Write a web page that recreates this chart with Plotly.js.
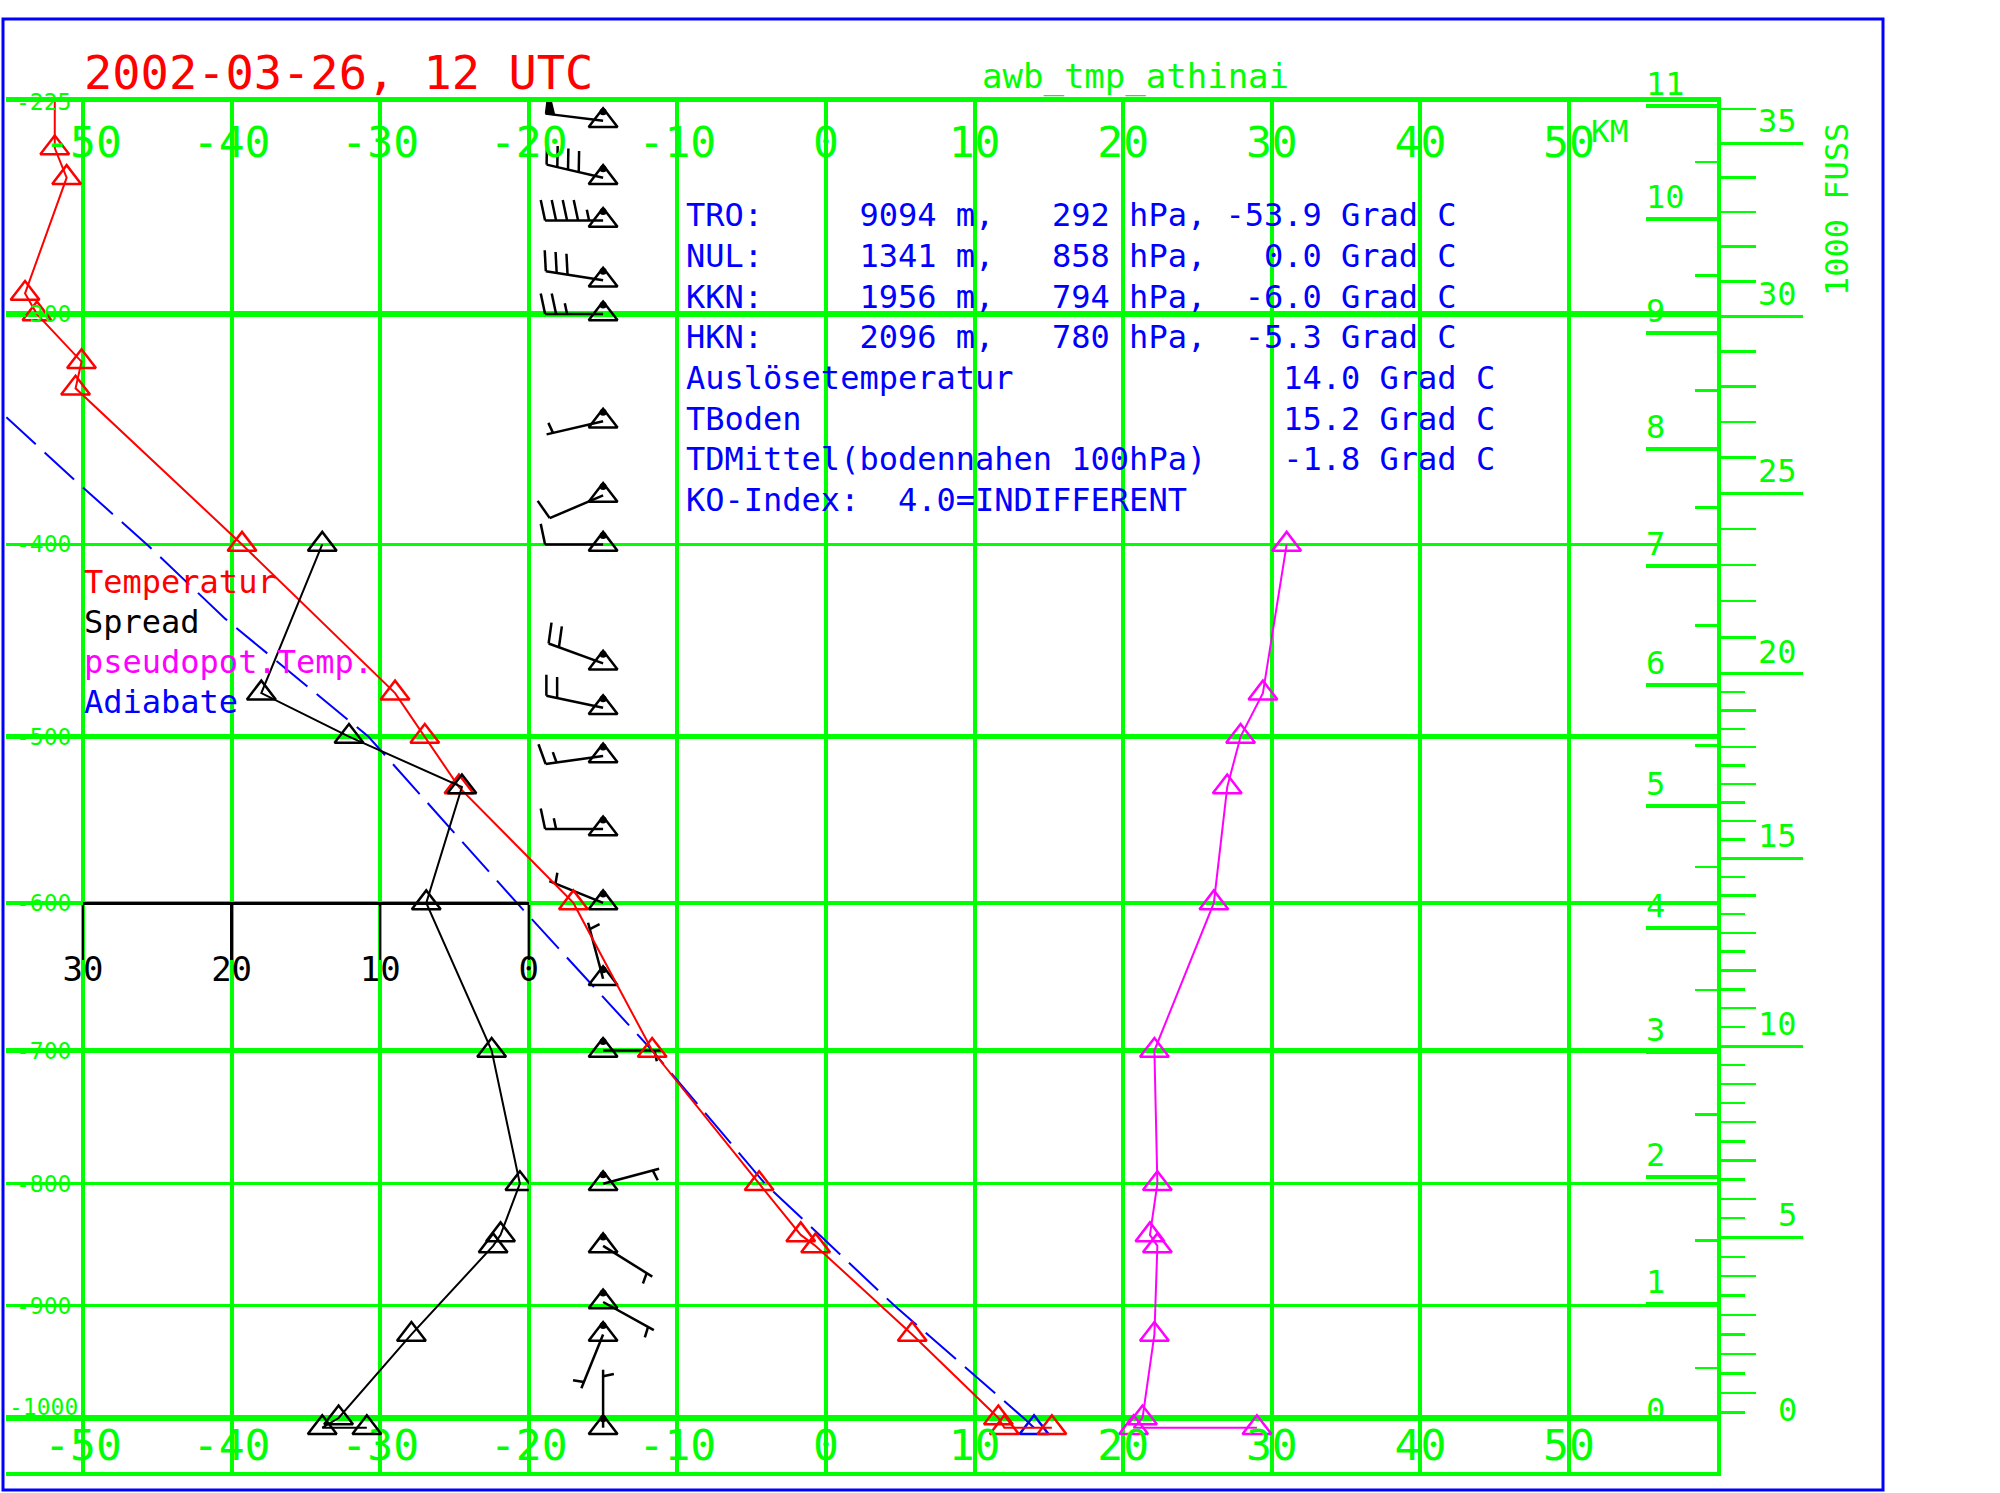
<!DOCTYPE html>
<html><head><meta charset="utf-8">
<script src="https://cdn.plot.ly/plotly-3.0.1.min.js"></script>
<style>html,body{margin:0;padding:0;background:#fff;}#chart{width:2000px;height:1493px;}</style>
</head><body><div id="chart"></div>
<script>
// ---------------- data ----------------
const tempP  = [200, 240, 250, 292, 300, 319, 330, 400, 476, 500, 529, 600, 700, 800, 841, 850, 925, 1000, 1009, 1009];
const tempT  = [-51.9, -51.9, -51.1, -53.9, -53.1, -50.1, -50.5, -39.3, -29.0, -27.0, -24.7, -17.0, -11.7, -4.5, -1.7, -0.7, 5.8, 11.6, 12.0, 15.2];
const humP   = [400, 476, 500, 529, 600, 700, 800, 841, 850, 925, 1000, 1009, 1009];
const spread = [13.9, 18.0, 12.1, 4.5, 6.9, 2.5, 0.6, 1.9, 2.4, 7.9, 12.8, 13.9, 10.9];
const thetaE = [31.0, 29.4, 27.9, 27.0, 26.1, 22.1, 22.3, 21.8, 22.3, 22.1, 21.3, 20.7, 29.0];
const adiaP  = [1009, 1000, 900, 800, 700, 650, 600, 500, 437, 400, 371, 342, 330];
const adiaT  = [14.0, 13.3, 4.6, -4.1, -11.7, -16.1, -20.8, -30.8, -40.4, -45.7, -50.4, -55.2, -57.3];
const windP   = [231, 250, 265, 287, 300, 344, 377, 400, 460, 484, 511, 554, 600, 650, 700, 800, 850, 897, 925, 1009];
const windDir = [277, 283, 270, 279, 270, 257, 247, 270, 290, 282, 262, 270, 292, 345, 90, 75, 122, 119, 202, 360];
const windSpd = [50, 40, 45, 30, 25, 5, 10, 10, 20, 20, 15, 15, 5, 5, 5, 5, 5, 5, 5, 5];
const pLevels = [225, 300, 400, 500, 600, 700, 800, 900, 1000];
const pThick  = [225, 300, 500, 700, 1000];
const pThin   = [400, 600, 800, 900];
const tempTicks   = [-50, -40, -30, -20, -10, 0, 10, 20, 30, 40, 50];
const spreadTicks = [30, 20, 10, 0];
const kmTicks = [0, 1, 2, 3, 4, 5, 6, 7, 8, 9, 10, 11];
const kmHalf  = [0.5, 1.5, 2.5, 3.5, 4.5, 5.5, 6.5, 7.5, 8.5, 9.5, 10.5];
const ftTicks = [0, 5, 10, 15, 20, 25, 30, 35];
const ft1000  = [1, 2, 3, 4, 6, 7, 8, 9, 11, 12, 13, 14, 16, 17, 18, 19, 21, 22, 23, 24, 26, 27, 28, 29, 31, 32, 33, 34, 36];
const ft500   = [0.5, 1.5, 2.5, 3.5, 4.5, 5.5, 6.5, 7.5, 8.5, 9.5, 10.5, 11.5, 12.5, 13.5, 14.5, 15.5, 16.5, 17.5, 18.5, 19.5];
const titleText = '2002-03-26, 12 UTC';
const stationText = 'awb_tmp_athinai';
const infoLines = [
  'TRO:     9094 m,   292 hPa, -53.9 Grad C',
  'NUL:     1341 m,   858 hPa,   0.0 Grad C',
  'KKN:     1956 m,   794 hPa,  -6.0 Grad C',
  'HKN:     2096 m,   780 hPa,  -5.3 Grad C',
  'Auslösetemperatur              14.0 Grad C',
  'TBoden                         15.2 Grad C',
  'TDMittel(bodennahen 100hPa)    -1.8 Grad C',
  'KO-Index:  4.0=INDIFFERENT'
];
const legendNames = ['Temperatur', 'Spread', 'pseudopot.Temp.', 'Adiabate'];

// ---------------- layout geometry ----------------
const GREEN = '#00ff00', RED = '#ff0000', BLUE = '#0000ff', MAG = '#ff00ff', BLACK = '#000000';
const MONO = 'DejaVu Sans Mono, Liberation Mono, monospace';
const L = 6, R = 1717, T = 102, B = 1472;           // plot box in px
const K = 0.286;
const v = p => Math.pow(p, K);                       // Stuve ordinate
const isaP = h => 1013.25 * Math.pow(1 - 2.25577e-5 * h, 5.25588);
const pxPerDeg = (1569 - 83) / 100;
const xMin = -50 - (83 - L) / pxPerDeg;
const xMax = 50 + (R - 1569) / pxPerDeg;
const pxPerV = (1418 - 102) / (v(1000) - v(225));
const yTopV = v(225);
const yBotV = yTopV + (B - T) / pxPerV;
const yRange = [yBotV, yTopV];
const paperX = px => (px - L) / (R - L);
const paperY = py => (B - py) / (B - T);
const tToPaper = t => (t - xMin) / (xMax - xMin);
const WIND_T = -15;

// ---------------- wind barbs ----------------
const STAFF = 58, SPACE = 11, FULL = 21, HALF = 11, PEN_W = 9, PEN_L = 24, TILT = 12 * Math.PI / 180;
const bX = [], bY = [], penX = [], penY = [];
windP.forEach((p, i) => {
  const r = windDir[i] * Math.PI / 180;
  const ux = Math.sin(r), uy = Math.cos(r);
  const nx = uy, ny = -ux;
  const y0 = v(p);
  const pt = (a, n) => [WIND_T + (ux * a + nx * n) / pxPerDeg, y0 - (uy * a + ny * n) / pxPerV];
  const seg = (a, b) => { bX.push(a[0], b[0], null); bY.push(a[1], b[1], null); };
  const barb = (pos, len) => seg(pt(pos, 0), pt(pos + len * Math.sin(TILT), len * Math.cos(TILT)));
  seg(pt(0, 0), pt(STAFF, 0));
  let s = Math.round(windSpd[i] / 5) * 5;
  const n50 = Math.floor(s / 50); s -= n50 * 50;
  const n10 = Math.floor(s / 10); s -= n10 * 10;
  const n5 = s >= 5 ? 1 : 0;
  let pos = STAFF;
  for (let k = 0; k < n50; k++) {
    const a = pt(pos, 0), b = pt(pos - PEN_W, 0), c = pt(pos, PEN_L);
    penX.push(a[0], b[0], c[0], a[0], null); penY.push(a[1], b[1], c[1], a[1], null);
    pos -= PEN_W + 3;
  }
  for (let k = 0; k < n10; k++) { barb(pos, FULL); pos -= SPACE; }
  if (n5) { if (n50 + n10 === 0) pos -= SPACE * 0.6; barb(pos, HALF); }
});

// ---------------- traces ----------------
const tri = (c) => ({symbol: 'triangle-up-open', size: 25, color: c, line: {width: 2.5, color: c}});
const traces = [
  {x: adiaT, y: adiaP.map(v), mode: 'lines', line: {color: BLUE, width: 2, dash: '40px,12px'}},
  {x: [adiaT[0]], y: [v(adiaP[0])], mode: 'markers', marker: tri(BLUE)},
  {x: thetaE, y: humP.map(v), mode: 'lines+markers', line: {color: MAG, width: 2}, marker: tri(MAG)},
  {x: bX, y: bY, mode: 'lines', line: {color: BLACK, width: 2.5}},
  {x: penX, y: penY, mode: 'lines', fill: 'toself', fillcolor: BLACK, line: {color: BLACK, width: 1.5}},
  {x: windP.map(() => WIND_T), y: windP.map(v), mode: 'markers', marker: tri(BLACK)},
  {x: windP.map(() => WIND_T), y: windP.map(p => v(p) - 9 / pxPerV), mode: 'markers', marker: {symbol: 'circle', size: 7, color: BLACK}},
  {x: tempT, y: tempP.map(v), mode: 'lines+markers', line: {color: RED, width: 2}, marker: tri(RED)},
  {x: spread, y: humP.map(v), xaxis: 'x3', yaxis: 'y', mode: 'lines+markers', line: {color: BLACK, width: 2}, marker: tri(BLACK)},
  {x: [], y: [], xaxis: 'x2', yaxis: 'y'},
  {x: [], y: [], xaxis: 'x', yaxis: 'y2'},
  {x: [], y: [], xaxis: 'x', yaxis: 'y3'},
  {x: [], y: [], xaxis: 'x', yaxis: 'y4'},
  {x: [], y: [], xaxis: 'x', yaxis: 'y5'},
  {x: [], y: [], xaxis: 'x', yaxis: 'y6'}
].map(t => Object.assign({type: 'scatter', hoverinfo: 'skip', showlegend: false, cliponaxis: true}, t));

// ---------------- axes ----------------
const tickFontBig = {family: MONO, size: 43, color: GREEN};
const noAx = {showgrid: false, zeroline: false, showticklabels: false, ticks: '', showline: false, automargin: false, fixedrange: true};
const yOver = (extra) => Object.assign({}, noAx, {overlaying: 'y', anchor: 'x', range: yRange, autorange: false}, extra);
const kmV = h => v(isaP(h * 1000));
const ftV = h => v(isaP(h * 1000 * 0.3048));

const layout = {
  width: 2000, height: 1493, autosize: false,
  paper_bgcolor: '#ffffff', plot_bgcolor: 'rgba(0,0,0,0)',
  margin: {l: L, r: 2000 - R, t: T, b: 1493 - B, pad: 0},
  font: {family: MONO, color: GREEN},
  showlegend: false,
  xaxis: {
    range: [xMin, xMax], autorange: false, domain: [0, 1], anchor: 'y',
    tickmode: 'array', tickvals: tempTicks, ticktext: tempTicks.map(String),
    ticks: '', ticklabelposition: 'inside', ticklabelstandoff: 9, tickfont: tickFontBig,
    showgrid: true, gridcolor: GREEN, gridwidth: 4, zeroline: false,
    showline: true, linecolor: GREEN, linewidth: 3.5, automargin: false, fixedrange: true
  },
  xaxis2: {
    overlaying: 'x', side: 'top', anchor: 'y', range: [xMin, xMax], autorange: false,
    tickmode: 'array', tickvals: tempTicks, ticktext: tempTicks.map(String),
    ticks: '', ticklabelposition: 'inside', ticklabelstandoff: 31, tickfont: tickFontBig,
    showgrid: false, zeroline: false, showline: true, linecolor: GREEN, linewidth: 5.5,
    automargin: false, fixedrange: true
  },
  xaxis3: {
    domain: [tToPaper(-50), tToPaper(-20)], anchor: 'free',
    position: (yBotV - v(600)) / (yBotV - yTopV), side: 'bottom',
    range: [30, 0], autorange: false, tickmode: 'array', tickvals: spreadTicks, ticktext: spreadTicks.map(String),
    ticks: 'outside', ticklen: 55, tickwidth: 2.5, tickcolor: BLACK, ticklabelstandoff: -20,
    tickfont: {family: MONO, size: 34, color: BLACK},
    showline: true, linecolor: BLACK, linewidth: 3, showgrid: false, zeroline: false,
    automargin: false, fixedrange: true
  },
  yaxis: Object.assign({}, noAx, {range: yRange, autorange: false, domain: [0, 1], anchor: 'x'}),
  yaxis5: yOver({side: 'left', tickmode: 'array', tickvals: pThin.map(v), showgrid: true, gridcolor: GREEN, gridwidth: 3.5}),
  yaxis6: yOver({side: 'left', tickmode: 'array', tickvals: pThick.map(v), showgrid: true, gridcolor: GREEN, gridwidth: 5.5}),
  yaxis2: yOver({
    side: 'right', tickmode: 'array', tickvals: kmTicks.map(kmV),
    ticks: 'inside', ticklen: 71, tickwidth: 4, tickcolor: GREEN,
    showline: true, linecolor: GREEN, linewidth: 3.5,
    minor: {tickmode: 'array', tickvals: kmHalf.map(kmV), ticks: 'inside', ticklen: 22, tickwidth: 2.5, tickcolor: GREEN, showgrid: false}
  }),
  yaxis3: yOver({
    side: 'right', tickmode: 'array', tickvals: ftTicks.map(ftV),
    ticks: 'outside', ticklen: 85, tickwidth: 3, tickcolor: GREEN,
    minor: {tickmode: 'array', tickvals: ft1000.map(ftV), ticks: 'outside', ticklen: 38, tickwidth: 2.5, tickcolor: GREEN, showgrid: false}
  }),
  yaxis4: yOver({
    side: 'right', tickmode: 'array', tickvals: ft500.map(ftV),
    ticks: 'outside', ticklen: 27, tickwidth: 2.5, tickcolor: GREEN
  }),
  shapes: [{
    type: 'rect', xref: 'paper', yref: 'paper', layer: 'above',
    x0: paperX(3), x1: paperX(1883), y0: paperY(1490), y1: paperY(19),
    line: {color: BLUE, width: 3}, fillcolor: 'rgba(0,0,0,0)'
  }],
  annotations: []
};

const ann = (o) => Object.assign({showarrow: false, xref: 'paper', yref: 'paper', borderpad: 0}, o);
const nb = s => s.replace(/ /g, '\u00a0');
const A = layout.annotations;
A.push(ann({text: titleText, x: paperX(83), xanchor: 'left', y: paperY(73), yanchor: 'middle', font: {family: MONO, size: 47, color: RED}}));
A.push(ann({text: stationText, x: paperX(1135), xanchor: 'center', y: paperY(76), yanchor: 'middle', font: {family: MONO, size: 34, color: GREEN}}));
infoLines.forEach((s, i) => A.push(ann({text: nb(s), x: paperX(685), xanchor: 'left', y: paperY(215.5 + 40.6 * i), yanchor: 'middle', font: {family: MONO, size: 32, color: BLUE}})));
const legCol = [RED, BLACK, MAG, BLUE];
legendNames.forEach((s, i) => A.push(ann({text: s, x: paperX(83), xanchor: 'left', y: paperY(582 + 40 * i), yanchor: 'middle', font: {family: MONO, size: 32, color: legCol[i]}})));
pLevels.forEach(p => A.push(ann({text: '-' + p, x: paperX(43), xanchor: 'center', yref: 'y', y: v(p), yanchor: 'middle', yshift: p === 1000 ? 11 : 0, font: {family: MONO, size: 23, color: GREEN}})));
kmTicks.forEach(k => A.push(ann({text: String(k), x: paperX(1645), xanchor: 'left', yref: 'y', y: kmV(k), yanchor: 'bottom', yshift: 2, font: {family: MONO, size: 32, color: GREEN}})));
ftTicks.forEach(f => A.push(ann({text: String(f), x: paperX(1798), xanchor: 'right', yref: 'y', y: ftV(f), yanchor: 'bottom', yshift: 2, font: {family: MONO, size: 32, color: GREEN}})));
A.push(ann({text: 'KM', x: paperX(1590), xanchor: 'left', y: paperY(131), yanchor: 'middle', font: {family: MONO, size: 31, color: GREEN}}));
A.push(ann({text: '1000 FUSS', x: paperX(1837), xanchor: 'center', y: paperY(210), yanchor: 'middle', textangle: -90, font: {family: MONO, size: 32, color: GREEN}}));

Plotly.newPlot('chart', traces, layout, {staticPlot: true, displayModeBar: false});
</script></body></html>
